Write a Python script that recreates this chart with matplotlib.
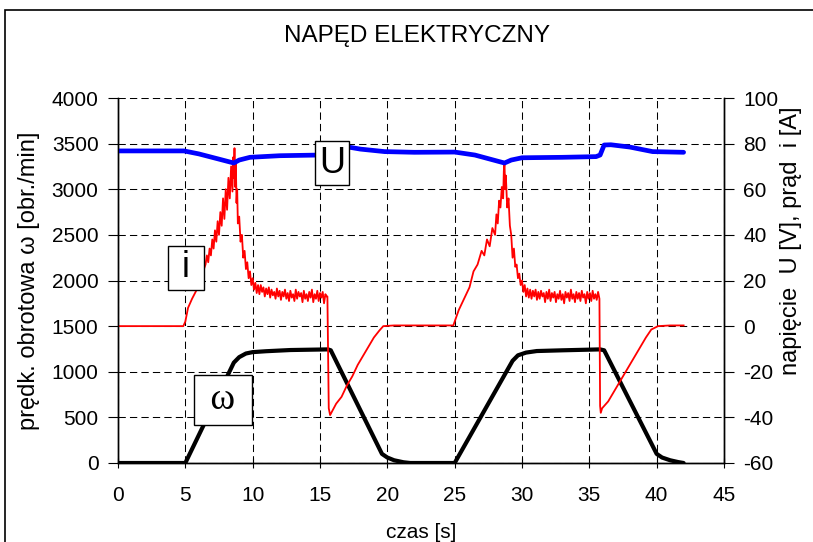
import numpy as np
import matplotlib.pyplot as plt
from matplotlib.patches import Rectangle

plt.rcParams['font.family'] = ['Liberation Sans', 'DejaVu Sans']
plt.rcParams['axes.unicode_minus'] = False

# predkosc obrotowa (lewa os)
w_t = [0, 5.0, 8.6, 9.0, 9.5, 10.0, 11.0, 12.8, 15.6, 15.8, 19.6, 20.0, 20.5, 21.2, 21.7,
       25.0, 29.3, 29.7, 30.3, 31.1, 33.0, 35.8, 36.1, 40.0, 40.4, 41.0, 41.6, 42.0]
w_v = [0, 0, 1100, 1160, 1200, 1215, 1225, 1238, 1245, 1235, 100, 60, 30, 8, 0,
       0, 1120, 1180, 1210, 1227, 1235, 1245, 1235, 100, 60, 30, 10, 0]

# napiecie (prawa os)
u_t = [0, 4.9, 6.0, 7.5, 8.6, 9.0, 9.8, 12.0, 15.0, 15.6, 15.9, 16.5, 17.3, 18.0, 19.8, 22.0,
       25.0, 26.5, 28.7, 29.2, 30.0, 33.0, 35.5, 35.8, 36.1, 36.6, 38.0, 39.7, 42.0]
u_v = [76.8, 76.8, 75.5, 73.2, 71.5, 72.8, 74.0, 74.7, 75.0, 75.2, 78.8, 78.8, 78.3, 77.6, 76.5, 76.2,
       76.3, 75.0, 71.5, 72.8, 73.8, 74.0, 74.3, 75.0, 79.4, 79.5, 78.5, 76.5, 76.2]

# prad (prawa os) - rozruch 1, ustalony 1, hamowanie 1, rozruch 2, ustalony 2, hamowanie 2
i1_t = [0, 4.85, 5.0, 5.2, 5.5, 5.85, 6.2, 6.5, 6.6, 6.7, 6.8, 6.9, 7.0, 7.1, 7.2, 7.3, 7.4,
        7.5, 7.6, 7.7, 7.8, 7.9, 8.0, 8.1, 8.2, 8.3, 8.4, 8.5, 8.55, 8.6, 8.65, 8.7, 8.75,
        8.8, 8.85, 8.9, 9.0, 9.1, 9.2, 9.3, 9.4, 9.5, 9.6, 9.7, 9.8, 9.9, 10.0, 10.1, 10.2,
        10.3, 10.4]
i1_v = [0, 0, 2, 8, 12, 16, 22, 27, 31, 28, 34, 31, 38, 34, 42, 37, 46,
        40, 50, 44, 56, 47, 60, 51, 65, 56, 70, 59, 74, 65, 78, 61, 72,
        54, 60, 45, 48, 37, 40, 30, 33, 25, 28, 21, 24, 18, 21, 16, 19,
        14.5, 18]
p1_v = [14, 18, 15, 17, 13, 16.5, 14, 17, 12.5, 16, 13.5, 15, 12, 16.5, 13, 15.5, 11.5,
        15, 13, 16, 12, 14.5, 11, 15.5, 12.5, 14, 11, 16, 12, 15, 13, 14.5, 10.5, 15.5,
        12, 14, 11, 15, 12.5, 16, 10.5, 14, 12, 15.5, 11, 14.5, 12.5, 15, 10, 14, 13]
b1_t = [15.55, 15.65, 15.75, 16.2, 16.6, 17.0, 17.4, 17.8, 18.2, 18.6, 19.0, 19.4, 19.7,
        20.5, 22.0, 23.5, 24.9]
b1_v = [13, -36, -39, -34, -31, -26, -22, -17, -13, -9, -5, -2, 0, 0.3, 0.3, 0.3, 0.3]
i2_t = [25.3, 25.7, 26.1, 26.4, 26.7, 27.0, 27.2, 27.4, 27.6, 27.8, 28.0, 28.1, 28.2, 28.3,
        28.4, 28.5, 28.6, 28.65, 28.7, 28.75, 28.8, 28.9, 29.0, 29.1, 29.2, 29.3, 29.4, 29.5,
        29.6, 29.7, 29.8, 29.9]
i2_v = [7, 12, 17, 24, 27, 33, 31, 38, 35, 43, 40, 49, 45, 55, 52, 61, 56, 68, 71.5, 60, 66,
        52, 56, 44, 40, 30, 34, 26, 27, 21, 23, 18]
p2_v = [20, 15, 18, 13, 16.5, 12.5, 16, 12, 15.5, 13, 16, 11.5, 15, 12, 15.5, 13, 14.5,
        10.5, 15, 12, 16, 11, 14.5, 12.5, 15, 10.5, 14, 12, 15.5, 11.5, 14, 10, 15, 12.5,
        14.5, 11, 16, 12, 14, 10.5, 15, 12, 14.5, 11, 15.5, 12.5, 14, 10, 15, 12, 14.5,
        11, 15.5, 12, 14, 11.5, 15, 12]
b2_t = [35.8, 35.85, 35.95, 36.4, 36.8, 37.2, 37.6, 38.0, 38.4, 38.8, 39.2, 39.6, 40.1,
        41.0, 42.0]
b2_v = [-35, -38, -36, -33, -29, -25, -21, -17, -13, -9, -5, -1.5, 0, 0.3, 0.3]

p1_t = np.linspace(10.5, 15.5, len(p1_v))
p2_t = np.linspace(30.0, 35.75, len(p2_v))
i_t = np.concatenate([i1_t, p1_t, b1_t, i2_t, p2_t, b2_t])
i_v = np.concatenate([i1_v, p1_v, b1_v, i2_v, p2_v, b2_v])

x_ticks = [0, 5, 10, 15, 20, 25, 30, 35, 40, 45]
left_ticks = [0, 500, 1000, 1500, 2000, 2500, 3000, 3500, 4000]
right_ticks = [-60, -40, -20, 0, 20, 40, 60, 80, 100]

fig = plt.figure(figsize=(8.13, 5.42), dpi=100)
ax = fig.add_axes([118 / 813, 1 - 463 / 542, 606 / 813, 365 / 542])
ax2 = ax.twinx()

ax.plot(w_t, w_v, color='black', lw=3.0, solid_capstyle='round')
ax2.plot(i_t, i_v, color='red', lw=1.3)
ax2.plot(u_t, u_v, color='blue', lw=3.4, solid_capstyle='round')

ax.set_xlim(0, 45)
ax.set_ylim(0, 4000)
ax2.set_ylim(-60, 100)
ax.set_xticks(x_ticks)
ax.set_yticks(left_ticks)
ax2.set_yticks(right_ticks)

ax.grid(True, color='black', lw=0.75, dashes=(7, 4))
for a in (ax, ax2):
    a.spines['top'].set_visible(False)
    for s in a.spines.values():
        s.set_linewidth(1.0)
ax.tick_params(axis='x', direction='inout', length=7, pad=13, labelsize=15)
ax.tick_params(axis='y', direction='out', length=7, pad=7, labelsize=15)
ax2.tick_params(axis='y', direction='out', length=7, pad=7, labelsize=15)

ax.set_xlabel('czas [s]', fontsize=15)
ax.xaxis.set_label_coords(0.5, -0.165)
ax.set_ylabel('prędk. obrotowa ω [obr./min]', fontsize=17)
ax.yaxis.set_label_coords(-0.128, 0.5)
ax2.set_ylabel('napięcie  U [V], prąd  i [A]', fontsize=17)
ax2.yaxis.set_label_coords(1.093, 0.61)

box = dict(boxstyle='square,pad=0.12', fc='white', ec='black', lw=1.0)
ax2.text(15.9, 71.5, 'U', fontsize=26, ha='center', va='center', bbox=box, zorder=5)
ax2.text(5.05, 25.5, ' i ', fontsize=26, ha='center', va='center', bbox=box, zorder=5)
ax2.text(7.8, -32.4, ' ω ', fontsize=27, ha='center', va='center', zorder=5,
         bbox=dict(boxstyle='square,pad=0.2', fc='white', ec='black', lw=1.0),
         family=['Liberation Serif', 'DejaVu Serif'])

fig.text(417 / 813, 1 - 36 / 542, 'NAPĘD ELEKTRYCZNY', fontsize=17.5, ha='center', va='center')
fig.patches.append(Rectangle((5 / 813, -0.1), 1.2, 1 - 10 / 542 + 0.1, transform=fig.transFigure,
                             fill=False, ec='black', lw=1.2))

fig.savefig('out.png', dpi=100)
